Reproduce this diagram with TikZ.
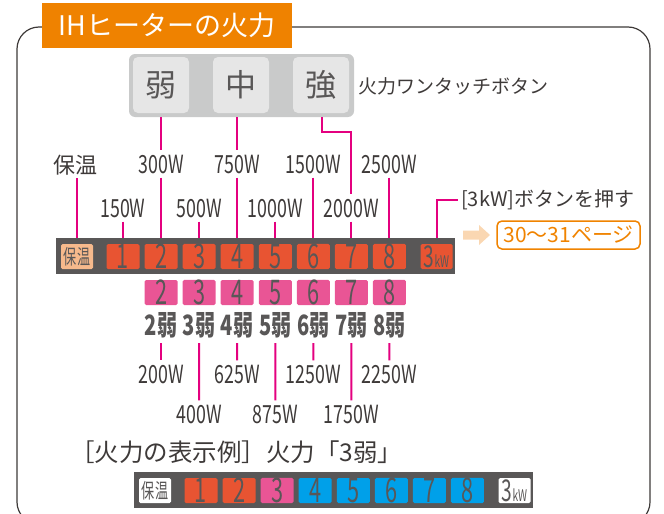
\documentclass[tikz,border=0pt]{standalone}
\usepackage{fontspec}
\setmainfont{Noto Sans CJK JP}
\newfontfamily\cnd[FakeStretch=0.72]{Noto Sans CJK JP}
\newfontfamily\cndw[FakeStretch=0.71]{Noto Sans CJK JP}
\newfontfamily\cndk[FakeStretch=0.64]{Noto Sans CJK JP}
\usetikzlibrary{calc}
\definecolor{ttl}{HTML}{EF8200}
\definecolor{panelc}{HTML}{C9CACA}
\definecolor{pbtn}{HTML}{E6E6E6}
\definecolor{txt}{HTML}{3E3A39}
\definecolor{btntxt}{HTML}{595757}
\definecolor{magc}{HTML}{E4007F}
\definecolor{barc}{HTML}{595757}
\definecolor{redk}{HTML}{E85432}
\definecolor{pinkk}{HTML}{E95595}
\definecolor{bluek}{HTML}{00A0E9}
\definecolor{warmk}{HTML}{F6B98C}
\definecolor{arrc}{HTML}{FAD7B2}
\definecolor{pagec}{HTML}{F08300}
\tikzset{
  mag/.style={draw=magc, line width=2pt},
  wl/.style={font=\cndw\fontsize{25}{25}\selectfont, text=txt, inner xsep=1pt, inner ysep=4pt},
  nl/.style={font=\cnd\bfseries\fontsize{28}{28}\selectfont, text=btntxt, inner xsep=1pt, inner ysep=5pt},
  key/.style={minimum width=33pt, minimum height=25pt, inner sep=0pt, rounded corners=1.5pt, text=btntxt, font=\cndk\fontsize{34}{34}\selectfont},
  keyred/.style={key, fill=redk},
  keypink/.style={key, fill=pinkk},
  keyblue/.style={key, fill=bluek},
  keywarm/.style={key, fill=warmk, minimum width=32pt, font=\cndk\fontsize{20.5}{20.5}\selectfont},
  keywhite/.style={key, fill=white, minimum width=32pt, font=\cndk\fontsize{20.5}{20.5}\selectfont},
  barbox/.style={fill=barc, minimum width=399pt, minimum height=36pt, inner sep=0pt},
  pbutton/.style={fill=pbtn, minimum width=56pt, minimum height=56pt, rounded corners=5pt, inner sep=0pt, text=btntxt, font=\fontsize{31}{31}\selectfont},
}
\newcommand{\kwtxt}{{\fontsize{30}{30}\selectfont 3}{\fontsize{16}{16}\selectfont kW}}
\begin{document}
\begin{tikzpicture}[x=1pt,y=-1pt]
\useasboundingbox (0,0) rectangle (664,514);
% frame
\draw[line width=1.2pt, draw=txt, rounded corners=22pt] (17,27) rectangle (650,524);
% title
\node[fill=ttl, minimum width=250pt, minimum height=45pt, inner sep=0pt, text=white, font=\fontsize{27}{27}\selectfont] (title) at (167,25.5) {IHヒーターの火力};
% one-touch panel
\node[fill=panelc, minimum width=225pt, minimum height=63pt, rounded corners=6pt] (panel) at (241.5,85.5) {};
\node[pbutton] (bweak) at (161,85) {弱};
\node[pbutton] (bmid) at (241,85) {中};
\node[pbutton] (bstrong) at (321,85) {強};
\node[anchor=west, inner sep=3pt, text=txt, font=\fontsize{19}{19}\selectfont] (onetouch) at (355,86) {火力ワンタッチボタン};
% top bar
\node[barbox] (bar) at (255.5,256) {};
\node[keywarm] (k0) at (77,256.5) {保温};
\foreach \i in {1,...,8}{
  \pgfmathsetmacro{\cx}{123+38.07*(\i-1)}
  \node[keyred] (k\i) at (\cx,256.5) {\i};
}
\node[keyred, minimum width=32pt, font=\cndk] (k9) at (436.5,256.5) {\kwtxt};
% labels above bar
\node[font=\fontsize{22}{22}\selectfont, text=txt, inner sep=3pt] (hlabel) at (75.5,165) {保温};
\node[wl] (w300) at (161.07,164) {300W};
\node[wl] (w750) at (237.21,164) {750W};
\node[wl] (w1500) at (313.35,164) {1500W};
\node[wl] (w2500) at (389.49,164) {2500W};
\node[wl] (w150) at (123,208) {150W};
\node[wl] (w500) at (199.14,208) {500W};
\node[wl] (w1000) at (275.28,208) {1000W};
\node[wl] (w2000) at (351.42,208) {2000W};
% connectors from panel
\draw[mag] (w300.north |- panel.south) -- (w300.north);
\draw[mag] (w750.north |- panel.south) -- (w750.north);
\draw[mag] ([xshift=1pt]bstrong.south |- panel.south) -- ++(0,15) -| (w2000.north);
% connectors to bar
\draw[mag] (hlabel.south -| k0) -- (k0 |- bar.north);
\foreach \n in {w300,w750,w1500,w2500,w150,w500,w1000,w2000}{
  \draw[mag] (\n.south) -- (\n.south |- bar.north);
}
% 3kW
\node[anchor=west, inner sep=3pt, text=txt, font=\fontsize{20}{20}\selectfont] (push) at (458,200) {[3kW]ボタンを押す};
\draw[mag] (k9.north |- bar.north) -- (k9.north |- push.west) -- (push.west);
\fill[arrc] (463,230.5) -- (479,230.5) -- (479,225) -- (490,235) -- (479,245) -- (479,239.5) -- (463,239.5) -- cycle;
\node[draw=pagec, line width=1.5pt, rounded corners=5pt, minimum width=143pt, minimum height=28pt, inner sep=0pt, text=pagec, font=\fontsize{21}{21}\selectfont] (page) at (568.5,235) {30〜31ページ};
% pink row
\foreach \i in {2,...,8}{
  \pgfmathsetmacro{\cx}{123+38.07*(\i-1)}
  \node[keypink] (p\i) at (\cx,292.5) {\i};
  \node[nl] (n\i) at (\cx,325) {\i 弱};
}
\node[wl] (l200) at (161.07,374) {200W};
\node[wl] (l625) at (237.21,374) {625W};
\node[wl] (l1250) at (313.35,374) {1250W};
\node[wl] (l2250) at (389.49,374) {2250W};
\node[wl] (l400) at (199.14,414) {400W};
\node[wl] (l875) at (275.28,414) {875W};
\node[wl] (l1750) at (351.42,414) {1750W};
\draw[mag] (n2.south) -- (l200.north);
\draw[mag] (n3.south) -- (l400.north);
\draw[mag] (n4.south) -- (l625.north);
\draw[mag] (n5.south) -- (l875.north);
\draw[mag] (n6.south) -- (l1250.north);
\draw[mag] (n7.south) -- (l1750.north);
\draw[mag] (n8.south) -- (l2250.north);
% example
\node[anchor=west, inner sep=0pt, text=txt, font=\fontsize{24.5}{24.5}\selectfont] (example) at (70,452) {［火力の表示例］火力「3弱」};
\begin{scope}[shift={(78,234)}]
\node[barbox] (ebar) at (255.5,256) {};
\node[keywhite] (e0) at (77,256.5) {保温};
\node[keyred] (e1) at (123,256.5) {1};
\node[keyred] (e2) at (161.07,256.5) {2};
\node[keypink] (e3) at (199.14,256.5) {3};
\foreach \i in {4,...,8}{
  \pgfmathsetmacro{\cx}{123+38.07*(\i-1)}
  \node[keyblue] (e\i) at (\cx,256.5) {\i};
}
\node[keywhite, font=\cndk] (e9) at (436.5,256.5) {\kwtxt};
\end{scope}
\end{tikzpicture}
\end{document}
